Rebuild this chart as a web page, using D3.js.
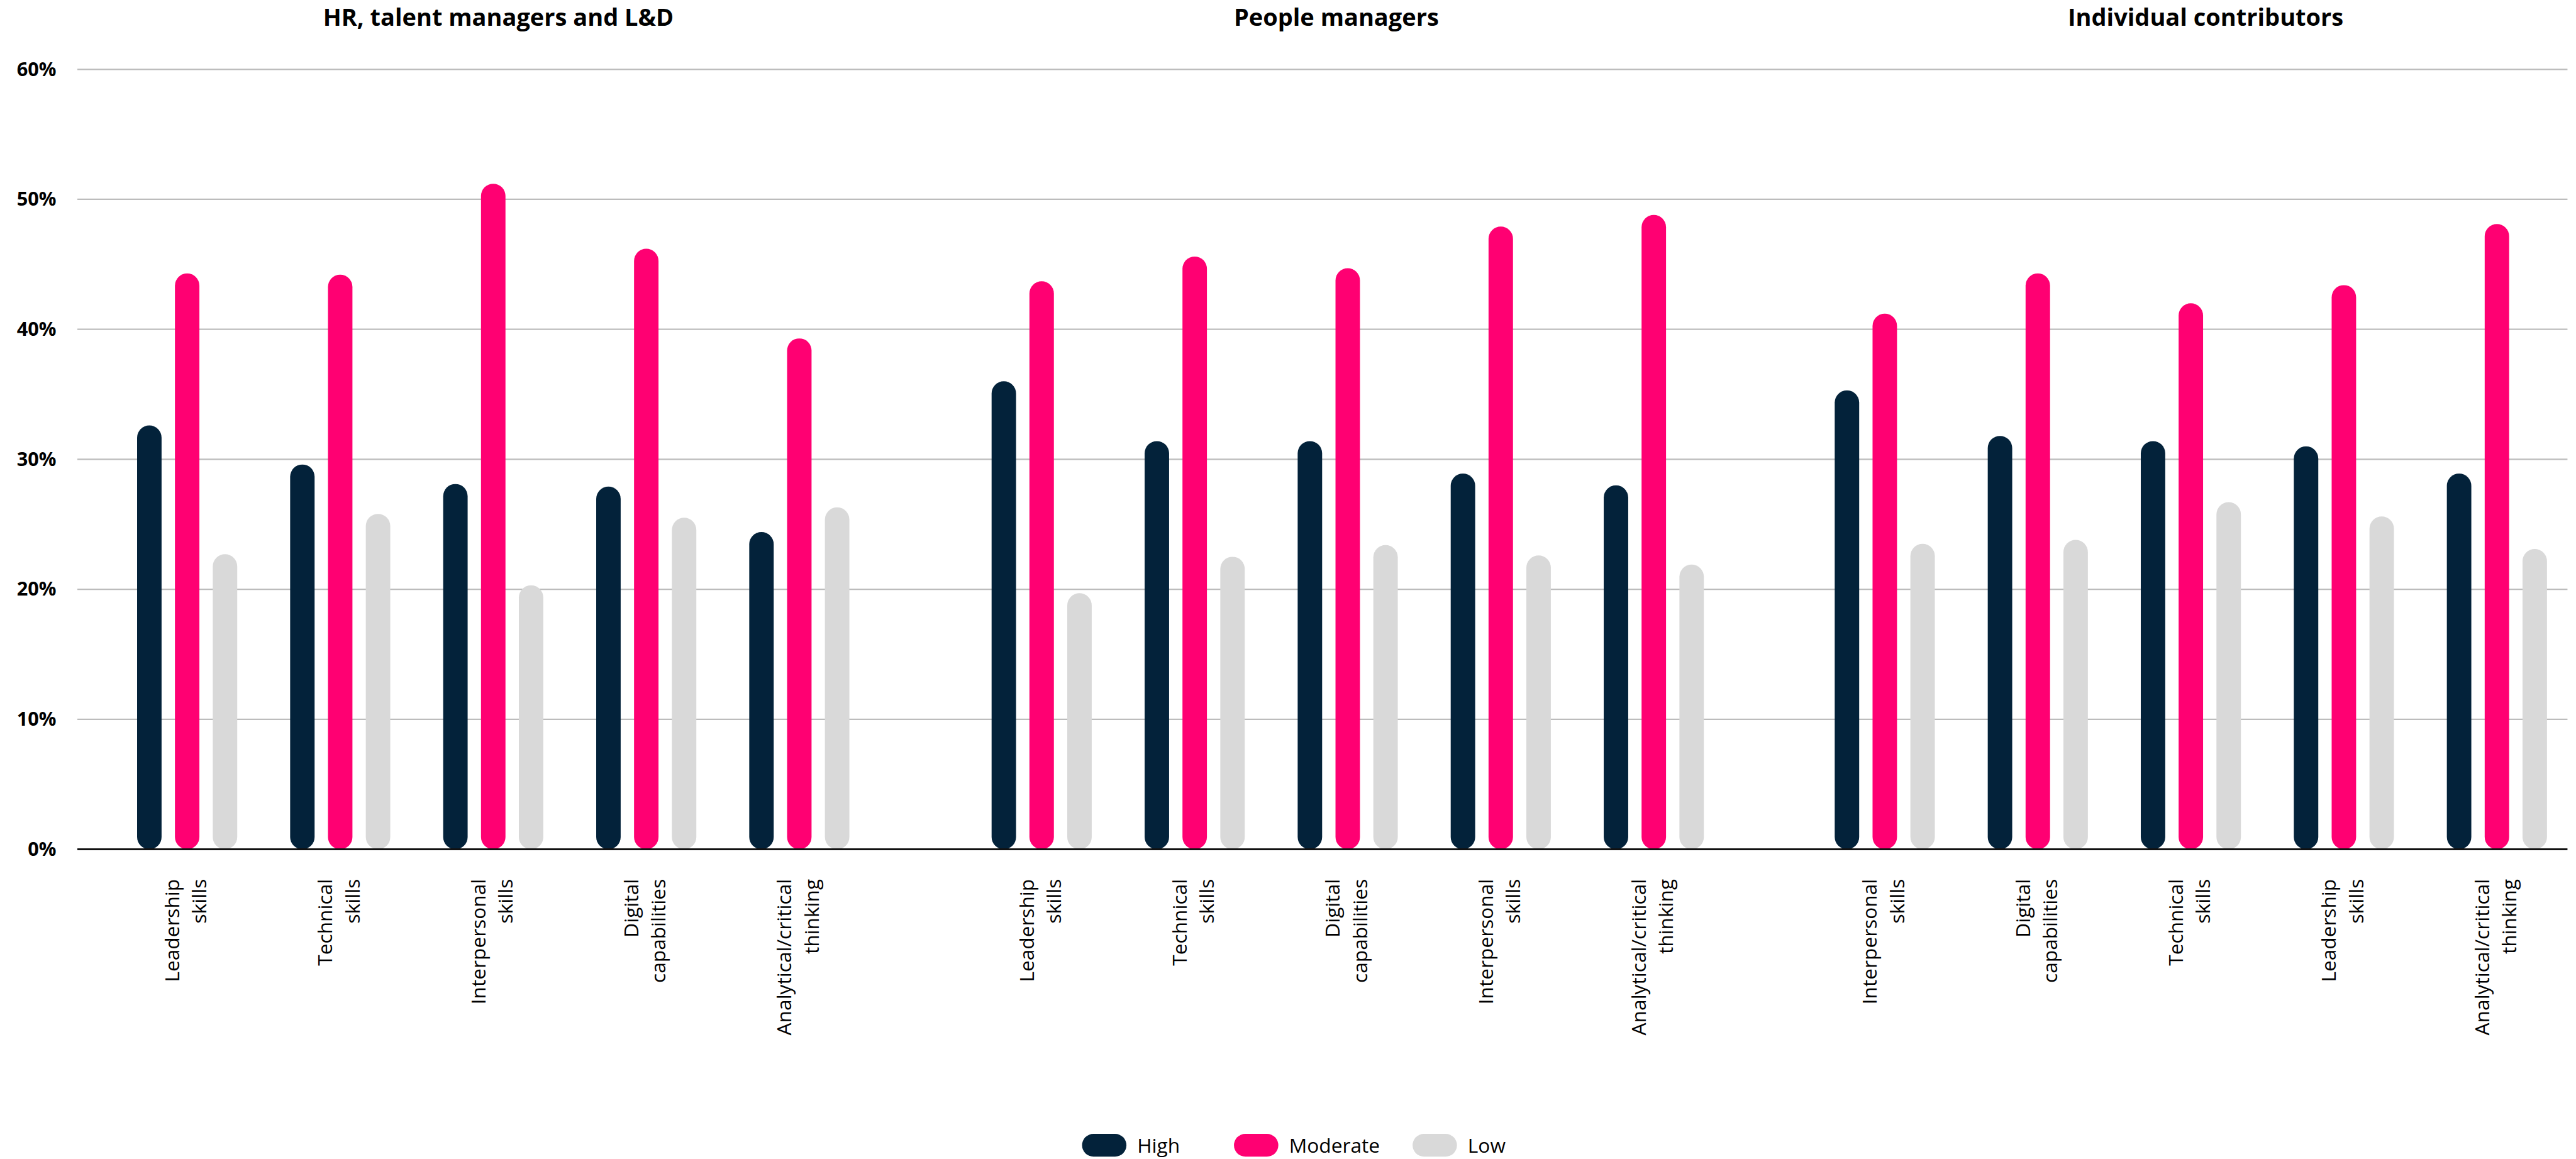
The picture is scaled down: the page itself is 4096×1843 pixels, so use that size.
<!DOCTYPE html>
<html>
<head>
<meta charset="utf-8">
<script src="https://cdnjs.cloudflare.com/ajax/libs/d3/7.8.5/d3.min.js"></script>
<style>
  html, body { margin: 0; padding: 0; background: #ffffff; }
  svg { display: block; }
  text { font-family: "Open Sans", "Noto Sans", sans-serif; }
</style>
</head>
<body>
<svg id="chart"></svg>
<script>
// ---------------- DATA ----------------
const panels = ["HR, talent managers and L&D", "People managers", "Individual contributors"];
const series = ["High", "Moderate", "Low"];

const categoriesHR = ["Leadership skills", "Technical skills", "Interpersonal skills", "Digital capabilities", "Analytical/critical thinking"];
const categoriesPM = ["Leadership skills", "Technical skills", "Digital capabilities", "Interpersonal skills", "Analytical/critical thinking"];
const categoriesIC = ["Interpersonal skills", "Digital capabilities", "Technical skills", "Leadership skills", "Analytical/critical thinking"];

const highHR     = [32.6, 29.6, 28.1, 27.9, 24.4];
const moderateHR = [44.3, 44.2, 51.2, 46.2, 39.3];
const lowHR      = [22.7, 25.8, 20.3, 25.5, 26.3];

const highPM     = [36.0, 31.4, 31.4, 28.9, 28.0];
const moderatePM = [43.7, 45.6, 44.7, 47.9, 48.8];
const lowPM      = [19.7, 22.5, 23.4, 22.6, 21.9];

const highIC     = [35.3, 31.8, 31.4, 31.0, 28.9];
const moderateIC = [41.2, 44.3, 42.0, 43.4, 48.1];
const lowIC      = [23.5, 23.8, 26.7, 25.6, 23.1];

const yTicks = [0, 10, 20, 30, 40, 50, 60];

// ---------------- LAYOUT (reference units, scaled by viewBox) ----------------
const W = 4528, H = 2037;
const plotLeft = 136, plotRight = 4513;
const y0px = 1492.7, y60px = 121.7;
const panelCenter = [867, 2369, 3851];
const titleX = [876, 2349, 3877];
const groupStep = 269;
const barWidth = 43, barStep = 66.5;
const legendX = [1902, 2169, 2483];

const colors = { High: "#03223a", Moderate: "#ff0072", Low: "#d9d9d9" };

const panelData = [
  { name: panels[0], cats: categoriesHR, vals: { High: highHR, Moderate: moderateHR, Low: lowHR } },
  { name: panels[1], cats: categoriesPM, vals: { High: highPM, Moderate: moderatePM, Low: lowPM } },
  { name: panels[2], cats: categoriesIC, vals: { High: highIC, Moderate: moderateIC, Low: lowIC } }
];

const svg = d3.select("#chart")
  .attr("width", 4096).attr("height", 1843)
  .attr("viewBox", `0 0 ${W} ${H}`);

const y = d3.scaleLinear().domain([0, 60]).range([y0px, y60px]);

// gridlines
svg.append("g").selectAll("line")
  .data(yTicks.filter(d => d !== 0))
  .join("line")
  .attr("x1", plotLeft).attr("x2", plotRight)
  .attr("y1", d => y(d)).attr("y2", d => y(d))
  .attr("stroke", "#bcbcbc").attr("stroke-width", 2.5);

// y axis labels
const yAxis = svg.append("g")
  .attr("transform", `translate(${plotLeft},0)`)
  .call(d3.axisLeft(y).tickValues(yTicks).tickFormat(d => d + "%").tickSize(0).tickPadding(37));
yAxis.select(".domain").remove();
yAxis.selectAll("text")
  .attr("font-family", "'Open Sans', sans-serif")
  .attr("font-size", 34).attr("font-weight", 700).attr("fill", "#000");

// series band scale (within group)
const xs = d3.scaleBand().domain(series)
  .range([-1.5 * barStep, 1.5 * barStep])
  .paddingInner(1 - barWidth / barStep)
  .paddingOuter((1 - barWidth / barStep) / 2);

panelData.forEach((p, i) => {
  const c = panelCenter[i];
  const xg = d3.scaleBand().domain(p.cats)
    .range([c - 2.5 * groupStep, c + 2.5 * groupStep]);

  // title
  svg.append("text")
    .attr("x", titleX[i]).attr("y", 45)
    .attr("text-anchor", "middle")
    .attr("font-size", 42).attr("font-weight", 700).attr("fill", "#000")
    .text(p.name);

  const g = svg.append("g");
  p.cats.forEach((cat, ci) => {
    const gc = xg(cat) + xg.bandwidth() / 2;
    series.forEach(s => {
      const v = p.vals[s][ci];
      g.append("rect")
        .attr("x", gc + xs(s))
        .attr("width", xs.bandwidth())
        .attr("y", y(v))
        .attr("height", y(0) - y(v))
        .attr("rx", xs.bandwidth() / 2).attr("ry", xs.bandwidth() / 2)
        .attr("fill", colors[s]);
    });

    // category label, rotated, two lines
    const parts = cat.split(" ");
    const t = svg.append("text")
      .attr("transform", `translate(${gc},1545) rotate(-90)`)
      .attr("text-anchor", "end")
      .attr("font-size", 35).attr("fill", "#000");
    t.append("tspan").attr("x", 0).attr("y", -14).text(parts[0]);
    t.append("tspan").attr("x", 0).attr("y", 34).text(parts.slice(1).join(" "));
  });
});

// zero axis line
svg.append("line")
  .attr("x1", plotLeft).attr("x2", plotRight)
  .attr("y1", y(0)).attr("y2", y(0))
  .attr("stroke", "#111").attr("stroke-width", 3.5);

// legend
const lg = svg.append("g");
series.forEach((s, i) => {
  lg.append("rect")
    .attr("x", legendX[i]).attr("y", 1993)
    .attr("width", 78).attr("height", 40)
    .attr("rx", 20).attr("ry", 20)
    .attr("fill", colors[s]);
  lg.append("text")
    .attr("x", legendX[i] + 97).attr("y", 2026)
    .attr("font-size", 35).attr("fill", "#000")
    .text(s);
});
</script>
</body>
</html>
